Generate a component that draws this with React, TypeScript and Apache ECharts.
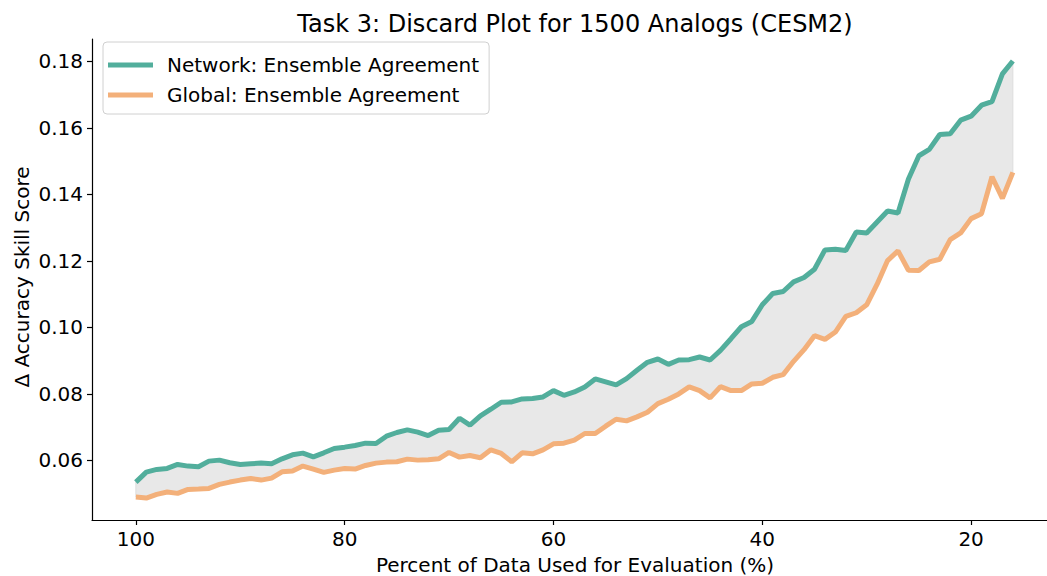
import React, { useEffect, useRef } from "react";
import * as echarts from "echarts";

const percent = [
  100, 99, 98, 97, 96, 95, 94, 93, 92, 91, 90, 89, 88, 87, 86, 85, 84, 83, 82, 81,
  80, 79, 78, 77, 76, 75, 74, 73, 72, 71, 70, 69, 68, 67, 66, 65, 64, 63, 62, 61,
  60, 59, 58, 57, 56, 55, 54, 53, 52, 51, 50, 49, 48, 47, 46, 45, 44, 43, 42, 41,
  40, 39, 38, 37, 36, 35, 34, 33, 32, 31, 30, 29, 28, 27, 26, 25, 24, 23, 22, 21,
  20, 19, 18, 17, 16,
];

const networkAgreement = [
  0.0535, 0.0565, 0.0573, 0.0576, 0.0588, 0.0583, 0.0581, 0.0598, 0.0601, 0.0593,
  0.0588, 0.059, 0.0592, 0.059, 0.0605, 0.0617, 0.0622, 0.0611, 0.0623, 0.0636,
  0.064, 0.0645, 0.0652, 0.0651, 0.0673, 0.0684, 0.0692, 0.0685, 0.0675, 0.0691,
  0.0693, 0.0727, 0.0706, 0.0734, 0.0754, 0.0775, 0.0776, 0.0785, 0.0786, 0.0791,
  0.081, 0.0796, 0.0806, 0.0821, 0.0845, 0.0836, 0.0827, 0.0846, 0.0871, 0.0895,
  0.0905, 0.0889, 0.0902, 0.0903, 0.0911, 0.0902, 0.0931, 0.0966, 0.1002, 0.1018,
  0.1068, 0.1102, 0.1108, 0.1137, 0.115, 0.1175, 0.1233, 0.1235, 0.1231, 0.1287,
  0.1284, 0.1317, 0.135, 0.1344, 0.1446, 0.1516, 0.1535, 0.158, 0.1582, 0.1623,
  0.1635, 0.1668, 0.1679, 0.1762, 0.1801,
];

const globalAgreement = [
  0.049, 0.0487, 0.0498, 0.0505, 0.0501, 0.0513, 0.0514, 0.0516, 0.0528, 0.0535,
  0.0541, 0.0546, 0.0541, 0.0547, 0.0566, 0.0568, 0.0583, 0.0574, 0.0564, 0.0571,
  0.0576, 0.0574, 0.0585, 0.0592, 0.0595, 0.0596, 0.0604, 0.0601, 0.0602, 0.0605,
  0.0624, 0.061, 0.0615, 0.0608, 0.0632, 0.0621, 0.0596, 0.0623, 0.062, 0.0632,
  0.065, 0.0652, 0.0661, 0.0681, 0.0681, 0.0703, 0.0724, 0.0719, 0.0731, 0.0745,
  0.0771, 0.0784, 0.08, 0.0821, 0.081, 0.0788, 0.0822, 0.081, 0.081, 0.083,
  0.0832, 0.085, 0.0858, 0.0898, 0.0933, 0.0975, 0.0964, 0.0986, 0.1033, 0.1044,
  0.1068, 0.113, 0.1201, 0.123, 0.1172, 0.1171, 0.1197, 0.1205, 0.1264, 0.1284,
  0.1327, 0.1342, 0.1453, 0.1388, 0.1466,
];

const xTicks = [100, 80, 60, 40, 20];
const yTicks = [0.06, 0.08, 0.1, 0.12, 0.14, 0.16, 0.18];

const NET_NAME = "Network: Ensemble Agreement";
const GLOB_NAME = "Global: Ensemble Agreement";
const TEAL = "#52ae9c";
const ORANGE = "#f3b07a";
const FONT = "DejaVu Sans";

export default function App() {
  const ref = useRef<HTMLDivElement>(null);

  useEffect(() => {
    if (!ref.current) return;
    const chart = echarts.init(ref.current, null, { renderer: "svg" });

    const netData = percent.map((p, i) => [p, networkAgreement[i]]);
    const globData = percent.map((p, i) => [p, globalAgreement[i]]);

    const axisLineStyle = { color: "#000", width: 1.2 };

    chart.setOption({
      animation: false,
      backgroundColor: "#fff",
      textStyle: { fontFamily: FONT },
      title: {
        text: "Task 3: Discard Plot for 1500 Analogs (CESM2)",
        left: 570,
        top: 7,
        textAlign: "center",
        textStyle: { fontFamily: FONT, fontSize: 24, fontWeight: "normal", color: "#000" },
      },
      legend: {
        left: 103,
        top: 42,
        orient: "vertical",
        itemWidth: 45,
        itemHeight: 5,
        itemGap: 10,
        padding: [13, 10, 9, 5],
        backgroundColor: "#fff",
        borderColor: "#d0d0d0",
        borderWidth: 1,
        borderRadius: 4,
        textStyle: { fontFamily: FONT, fontSize: 20, color: "#000", padding: [0, 0, 0, 9] },
        data: [
          { name: NET_NAME, icon: "rect" },
          { name: GLOB_NAME, icon: "rect" },
        ],
      },
      grid: { left: 92, right: 0, top: 39, bottom: 56, containLabel: false },
      xAxis: {
        type: "value",
        inverse: true,
        min: 12.73,
        max: 104.2,
        axisLine: { show: true, lineStyle: axisLineStyle },
        axisTick: { show: true, length: 5, lineStyle: axisLineStyle, customValues: xTicks },
        axisLabel: {
          customValues: xTicks,
          fontFamily: FONT,
          fontSize: 20,
          color: "#000",
          margin: 9,
          formatter: (v: number) => String(Math.round(v)),
        },
        splitLine: { show: false },
      },
      yAxis: {
        type: "value",
        min: 0.0421,
        max: 0.1867,
        axisLine: { show: true, lineStyle: axisLineStyle },
        axisTick: { show: true, length: 5, lineStyle: axisLineStyle, customValues: yTicks },
        axisLabel: {
          customValues: yTicks,
          fontFamily: FONT,
          fontSize: 20,
          color: "#000",
          margin: 9,
          formatter: (v: number) => v.toFixed(2),
        },
        splitLine: { show: false },
      },
      graphic: [
        {
          type: "text",
          x: 575,
          y: 565,
          style: {
            text: "Percent of Data Used for Evaluation (%)",
            align: "center",
            verticalAlign: "middle",
            font: `20px "${FONT}"`,
            fill: "#000",
          },
        },
        {
          type: "text",
          x: 22,
          y: 277,
          rotation: Math.PI / 2,
          style: {
            text: "Δ Accuracy Skill Score",
            align: "center",
            verticalAlign: "middle",
            font: `20px "${FONT}"`,
            fill: "#000",
          },
        },
      ],
      series: [
        {
          name: "band",
          type: "custom",
          coordinateSystem: "cartesian2d",
          silent: true,
          z: 1,
          data: [[percent[0], networkAgreement[0]]],
          renderItem: (_params: any, api: any) => {
            const pts: number[][] = [];
            for (let i = 0; i < percent.length; i++) {
              pts.push(api.coord([percent[i], networkAgreement[i]]));
            }
            for (let i = percent.length - 1; i >= 0; i--) {
              pts.push(api.coord([percent[i], globalAgreement[i]]));
            }
            return {
              type: "polygon",
              shape: { points: pts },
              style: { fill: "#e8e8e8", stroke: "#dddddd", lineWidth: 1 },
            };
          },
        },
        {
          name: NET_NAME,
          type: "line",
          data: netData,
          symbol: "none",
          color: TEAL,
          lineStyle: { color: TEAL, width: 5 },
          z: 3,
        },
        {
          name: GLOB_NAME,
          type: "line",
          data: globData,
          symbol: "none",
          color: ORANGE,
          lineStyle: { color: ORANGE, width: 5 },
          z: 3,
        },
      ],
    });

    return () => chart.dispose();
  }, []);

  return (
    <div
      ref={ref}
      style={{ position: "absolute", left: 0, top: 0, width: 1047, height: 576 }}
    />
  );
}
